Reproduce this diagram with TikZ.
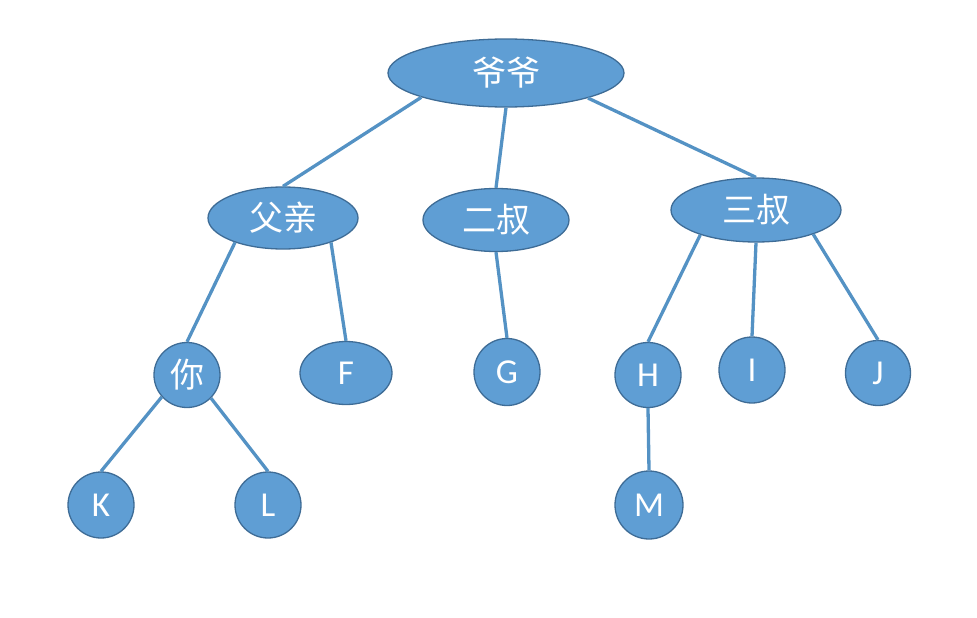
\documentclass[tikz,border=0pt]{standalone}
\usepackage{fontspec}
\setmainfont{Carlito}
\newfontfamily\cjk{Noto Sans CJK SC}
\usetikzlibrary{shapes.geometric}
\definecolor{nodefill}{RGB}{95,158,212}
\definecolor{nodeborder}{RGB}{62,108,150}
\definecolor{edgecol}{RGB}{84,146,196}
\tikzset{
  tnode/.style={ellipse, draw=nodeborder, line width=1.3pt, fill=nodefill,
    text=white, inner sep=0pt, font=\fontsize{35}{36}\selectfont},
  cnode/.style={tnode, font=\cjk\fontsize{34}{36}\selectfont},
  edge/.style={draw=edgecol, line width=3.3pt}
}
\begin{document}
\begin{tikzpicture}[x=1pt,y=-1pt]
\useasboundingbox (0,0) rectangle (977,618);
\node[cnode, minimum width=236pt, minimum height=68pt] (yeye) at (506,73) {爷爷};
\node[cnode, minimum width=150pt, minimum height=62pt] (fu) at (283,218) {父亲};
\node[cnode, minimum width=146pt, minimum height=63pt] (er) at (496,220) {二叔};
\node[cnode, minimum width=170pt, minimum height=64pt] (san) at (756,210) {三叔};
\node[cnode, minimum width=66pt, minimum height=65pt] (ni) at (187,375) {你};
\node[tnode, minimum width=92pt, minimum height=63pt] (F) at (346,373) {F};
\node[tnode, minimum width=66pt, minimum height=67pt] (G) at (507,372) {G};
\node[tnode, minimum width=66pt, minimum height=65pt] (H) at (648,375) {H};
\node[tnode, minimum width=66pt, minimum height=66pt] (I) at (752,370) {I};
\node[tnode, minimum width=65pt, minimum height=65pt] (J) at (878,373) {J};
\node[tnode, minimum width=66pt, minimum height=66pt] (K) at (101,505) {K};
\node[tnode, minimum width=66pt, minimum height=66pt] (L) at (268,505) {L};
\node[tnode, minimum width=68pt, minimum height=68pt] (M) at (649,505) {M};
\draw[edge] (yeye.196) -- (fu.north);
\draw[edge] (yeye.south) -- (er.north);
\draw[edge] (yeye.-17) -- (san.north);
\draw[edge] (fu.207) -- (ni.north);
\draw[edge] (fu.-27) -- (F.north);
\draw[edge] (er.south) -- (G.north);
\draw[edge] (san.204) -- (H.north);
\draw[edge] (san.south) -- (I.north);
\draw[edge] (san.-23) -- (J.north);
\draw[edge] (ni.221) -- (K.north);
\draw[edge] (ni.-44) -- (L.north);
\draw[edge] (H.south) -- (M.north);
\end{tikzpicture}
\end{document}
